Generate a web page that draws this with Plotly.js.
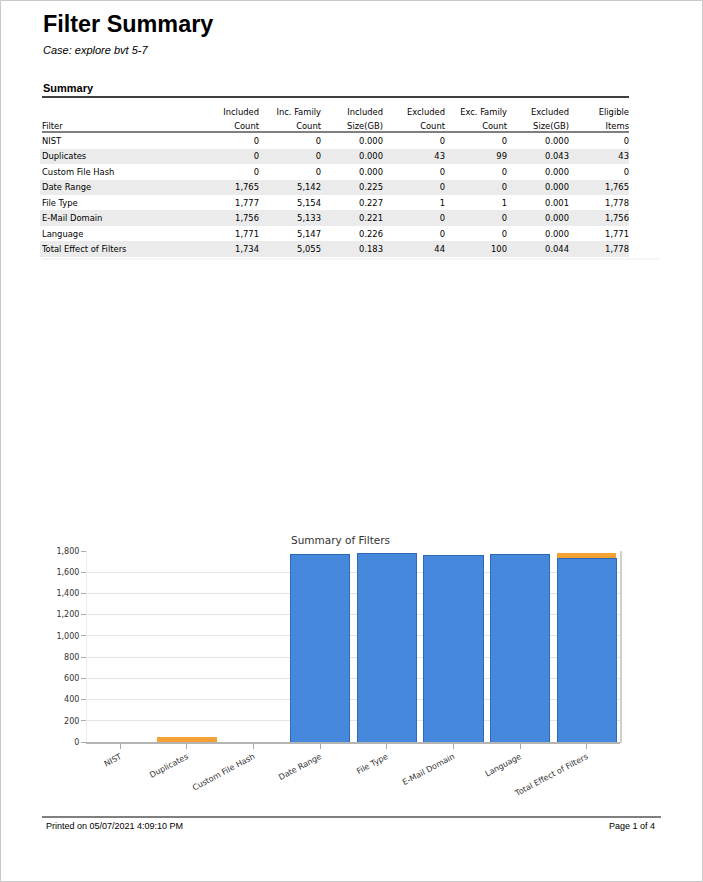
<!DOCTYPE html>
<html>
<head>
<meta charset="utf-8">
<script src="https://cdn.plot.ly/plotly-3.0.1.min.js"></script>
<style>
  html, body { margin: 0; padding: 0; background: #fff; }
  #page { width: 703px; height: 882px; }
</style>
</head>
<body>
<div id="page"></div>
<script>
// report data
var filters = ['NIST', 'Duplicates', 'Custom File Hash', 'Date Range', 'File Type', 'E-Mail Domain', 'Language', 'Total Effect of Filters'];
var includedCount = [0, 0, 0, 1765, 1777, 1756, 1771, 1734];
var incFamilyCount = [0, 0, 0, 5142, 5154, 5133, 5147, 5055];
var includedSize = [0, 0, 0, 0.225, 0.227, 0.221, 0.226, 0.183];
var excludedCount = [0, 43, 0, 0, 1, 0, 0, 44];
var excFamilyCount = [0, 99, 0, 0, 1, 0, 0, 100];
var excludedSize = [0, 0.043, 0, 0, 0.001, 0, 0, 0.044];
var eligibleItems = [0, 43, 0, 1765, 1778, 1756, 1771, 1778];
var headerTop = ['', 'Included', 'Inc.\u00a0Family', 'Included', 'Excluded', 'Exc.\u00a0Family', 'Excluded', 'Eligible'];
var headerBottom = ['Filter', 'Count', 'Count', 'Size(GB)', 'Count', 'Count', 'Size(GB)', 'Items'];

var W = 703, H = 882;
function px(x) { return x / W; }
function py(y) { return 1 - y / H; }

var colAlign = ['left', 'right', 'right', 'right', 'right', 'right', 'right', 'right'];
var clear = 'rgba(0,0,0,0)';
var tblFont = {family: 'DejaVu Sans Condensed, DejaVu Sans, sans-serif', size: 9.3, color: '#000'};
var rowFill = filters.map(function (f, i) { return i % 2 ? '#ebebeb' : '#ffffff'; });
var blankRows = filters.map(function () { return ''; });

// plotly puts cell text near the bottom of each row, so the striping is a
// blank table a few px lower and the text table sits on top of it
var stripes = {
  type: 'table',
  domain: {x: [px(40), px(629)], y: [py(300), py(104.3)]},
  header: {values: [['', '']], fill: {color: clear}, line: {width: 0, color: clear}, height: 14.5},
  cells: {values: [blankRows], fill: {color: [rowFill]}, line: {width: 0, color: clear}, height: 15.43}
};

var table = {
  type: 'table',
  domain: {x: [px(34), px(637)], y: [py(300), py(100)]},
  columnwidth: [171, 62, 62, 62, 62, 62, 62, 60],
  header: {
    values: headerTop.map(function (t, i) { return [t, headerBottom[i]]; }),
    align: colAlign,
    font: tblFont,
    fill: {color: clear},
    line: {width: 0, color: clear},
    height: 14.5
  },
  cells: {
    values: [filters, includedCount, incFamilyCount, includedSize, excludedCount, excFamilyCount, excludedSize, eligibleItems],
    format: ['', ',d', ',d', '.3f', ',d', ',d', '.3f', ',d'],
    align: colAlign,
    font: tblFont,
    fill: {color: clear},
    line: {width: 0, color: clear},
    height: 15.43
  }
};

var included = {
  type: 'bar',
  x: filters,
  y: includedCount,
  name: 'Included Count',
  marker: {color: '#4688dc', line: {color: '#2f68b4', width: 1}},
  xaxis: 'x',
  yaxis: 'y'
};

var excluded = {
  type: 'bar',
  x: filters,
  y: excludedCount,
  name: 'Excluded Count',
  marker: {color: '#f4a236', line: {width: 0}},
  xaxis: 'x',
  yaxis: 'y'
};

var tickFont = {family: 'DejaVu Sans, Verdana, sans-serif', size: 8, color: '#333'};

var layout = {
  width: W,
  height: H,
  margin: {l: 0, r: 0, t: 0, b: 0},
  paper_bgcolor: '#ffffff',
  plot_bgcolor: '#ffffff',
  showlegend: false,
  barmode: 'stack',
  bargap: 0.11,
  hovermode: false,
  xaxis: {
    domain: [px(87), px(620)],
    anchor: 'y',
    tickangle: -28,
    tickfont: tickFont,
    ticks: 'outside',
    ticklen: 5,
    tickcolor: '#aaa',
    showline: true,
    linecolor: '#b4b4b4',
    linewidth: 2,
    showgrid: false,
    fixedrange: true
  },
  yaxis: {
    domain: [py(742), py(551)],
    anchor: 'x',
    range: [0, 1800],
    dtick: 200,
    tickformat: ',d',
    tickfont: tickFont,
    ticks: 'outside',
    ticklen: 5,
    tickcolor: '#aaa',
    showline: true,
    linecolor: '#eeeeee',
    gridcolor: '#e4e4e4',
    zeroline: false,
    fixedrange: true
  },
  shapes: [
    // page border
    {type: 'rect', xref: 'paper', yref: 'paper', x0: px(0.5), x1: px(702.5), y0: py(881.5), y1: py(0.5), line: {color: '#c8c8c8', width: 1}},
    // summary rule and header rule
    {type: 'line', xref: 'paper', yref: 'paper', x0: px(42), x1: px(629), y0: py(97), y1: py(97), line: {color: '#000', width: 1.5}},
    {type: 'line', xref: 'paper', yref: 'paper', x0: px(42), x1: px(629), y0: py(132), y1: py(132), line: {color: '#000', width: 1}},
    {type: 'line', xref: 'paper', yref: 'paper', x0: px(42), x1: px(660), y0: py(259), y1: py(259), line: {color: '#ececec', width: 1}},
    // plot area right edge shadow
    {type: 'line', xref: 'paper', yref: 'paper', x0: px(621), x1: px(621), y0: py(743), y1: py(551), line: {color: '#d0d0d0', width: 2}},
    // footer rule
    {type: 'line', xref: 'paper', yref: 'paper', x0: px(42), x1: px(661), y0: py(817), y1: py(817), line: {color: '#000', width: 1}}
  ],
  annotations: [
    {text: '<b>Filter Summary</b>', xref: 'paper', yref: 'paper', x: px(41), y: py(24), xanchor: 'left', yanchor: 'middle', showarrow: false,
     font: {family: 'Liberation Sans, Arial, sans-serif', size: 23.4, color: '#000'}},
    {text: '<i>Case: explore bvt 5-7</i>', xref: 'paper', yref: 'paper', x: px(41), y: py(50), xanchor: 'left', yanchor: 'middle', showarrow: false,
     font: {family: 'Liberation Sans, Arial, sans-serif', size: 11, color: '#000'}},
    {text: '<b>Summary</b>', xref: 'paper', yref: 'paper', x: px(41), y: py(88), xanchor: 'left', yanchor: 'middle', showarrow: false,
     font: {family: 'Liberation Sans, Arial, sans-serif', size: 11, color: '#000'}},
    {text: 'Summary of Filters', xref: 'paper', yref: 'paper', x: px(340), y: py(540), xanchor: 'center', yanchor: 'middle', showarrow: false,
     font: {family: 'DejaVu Sans, Verdana, sans-serif', size: 10.5, color: '#333'}},
    {text: 'Printed on 05/07/2021 4:09:10 PM', xref: 'paper', yref: 'paper', x: px(44), y: py(826), xanchor: 'left', yanchor: 'middle', showarrow: false,
     font: {family: 'Liberation Sans, Arial, sans-serif', size: 9, color: '#000'}},
    {text: 'Page 1 of 4', xref: 'paper', yref: 'paper', x: px(657), y: py(826), xanchor: 'right', yanchor: 'middle', showarrow: false,
     font: {family: 'Liberation Sans, Arial, sans-serif', size: 9, color: '#000'}}
  ]
};

Plotly.newPlot('page', [stripes, table, included, excluded], layout, {displayModeBar: false, staticPlot: true});
</script>
</body>
</html>
